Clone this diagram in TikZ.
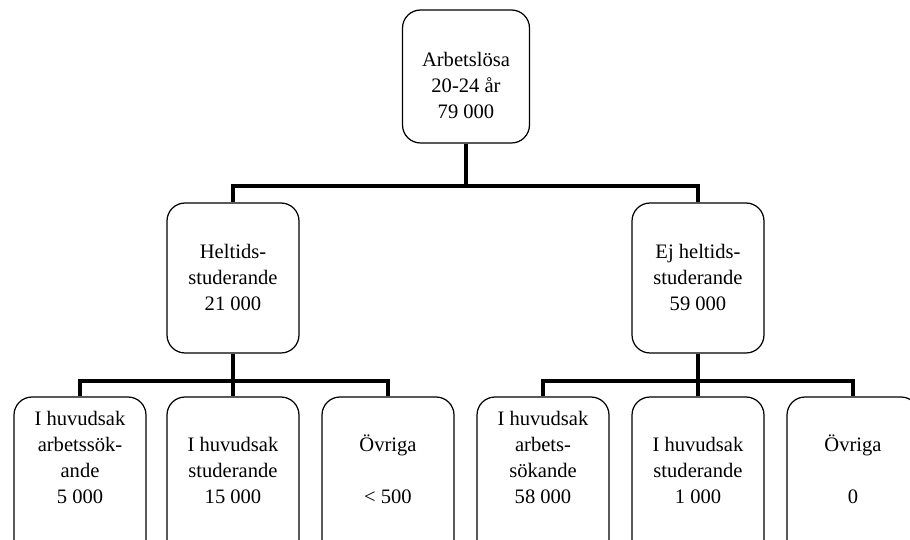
\documentclass[tikz,border=0pt]{standalone}
\usepackage{fontspec}
\setmainfont{Liberation Serif}
\usetikzlibrary{positioning}

\tikzset{
  box/.style={shape=rectangle,draw=black,rounded corners=0.36cm,line width=0.7pt,
    minimum width=2.64cm,inner sep=0pt},
  txt/.style={align=center,inner sep=0pt,anchor=north,
    font=\fontsize{11.7pt}{14.8pt}\selectfont},
  conn/.style={draw=black,line width=2.2pt}
}

\begin{document}
\begin{tikzpicture}[x=0.02cm,y=0.02cm]
\path[use as bounding box,clip] (0,0) rectangle (910,-540);

% top level
\node[box,minimum width=2.54cm,minimum height=2.66cm] (alla) at (466,-76.5) {};
\node[txt,below=0.85cm of alla.north] (alla-t) {Arbetslösa\\20-24 år\\79 000};

% second level
\node[box,minimum height=3.0cm] (heltid) at (233,-278) {};
\node[txt,below=0.82cm of heltid.north] (heltid-t) {Heltids-\\studerande\\21 000};
\node[box,minimum height=3.0cm] (ejheltid) at (698,-278) {};
\node[txt,below=0.82cm of ejheltid.north] (ejheltid-t) {Ej heltids-\\studerande\\59 000};

% third level (boxes run off the page)
\node[box,minimum height=3.4cm] (h1) at (80,-482) {};
\node[box,minimum height=3.4cm] (h2) at (233,-482) {};
\node[box,minimum height=3.4cm] (h3) at (388,-482) {};
\node[box,minimum height=3.4cm] (e1) at (543,-482) {};
\node[box,minimum height=3.4cm] (e2) at (698,-482) {};
\node[box,minimum height=3.4cm] (e3) at (853,-482) {};

\node[txt,below=0.28cm of h1.north] (h1-t) {I huvudsak\\arbetssök-\\ande\\5 000};
\node[txt,below=0.28cm of h2.north] (h2-t) {\vphantom{h}\\I huvudsak\\studerande\\15 000};
\node[txt,below=0.28cm of h3.north] (h3-t) {\vphantom{h}\\Övriga\\\vphantom{h}\\< 500};
\node[txt,below=0.28cm of e1.north] (e1-t) {I huvudsak\\arbets-\\sökande\\58 000};
\node[txt,below=0.28cm of e2.north] (e2-t) {\vphantom{h}\\I huvudsak\\studerande\\1 000};
\node[txt,below=0.28cm of e3.north] (e3-t) {\vphantom{h}\\Övriga\\\vphantom{h}\\0};

% connectors
\coordinate (buss) at (466,-186);
\coordinate (buss-h) at (233,-381);
\coordinate (buss-e) at (698,-381);

\path[conn] (alla) -- (buss);
\path[conn] (buss) -| (heltid);
\path[conn] (buss) -| (ejheltid);

\path[conn] (heltid) -- (buss-h);
\path[conn] (buss-h) -| (h1);
\path[conn] (buss-h) -- (h2);
\path[conn] (buss-h) -| (h3);

\path[conn] (ejheltid) -- (buss-e);
\path[conn] (buss-e) -| (e1);
\path[conn] (buss-e) -- (e2);
\path[conn] (buss-e) -| (e3);
\end{tikzpicture}
\end{document}
